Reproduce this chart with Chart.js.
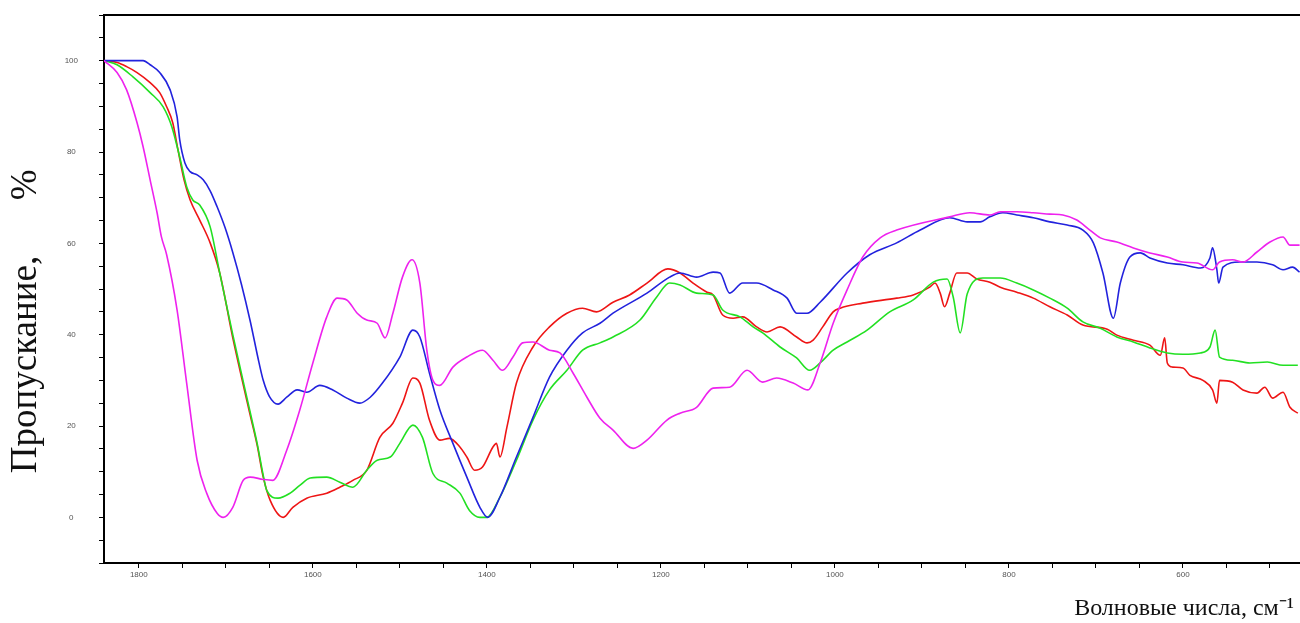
<!DOCTYPE html>
<html>
<head>
<meta charset="utf-8">
<script src="https://cdn.jsdelivr.net/npm/chart.js@4.4.1/dist/chart.umd.min.js"></script>
<style>
  html, body { margin: 0; padding: 0; background: #ffffff; }
  #wrap { width: 1300px; height: 623px; }
</style>
</head>
<body>
<div id="wrap"><canvas id="c" width="1300" height="623"></canvas></div>
<script>
// ---- data (wavenumber, cm-1  /  transmittance, %) ----
const blueWavenumber = [1840,1795,1787,1776,1764,1756,1753,1747,1741,1733,1726,1718,1710,1701,1692,1682,1672,1662,1657,1650,1640,1630,1618,1607,1592,1577,1561,1546,1534,1520,1500,1485,1477,1466,1454,1439,1423,1408,1399,1385,1366,1347,1328,1308,1290,1270,1255,1216,1190,1178,1159,1140,1132,1121,1106,1090,1071,1055,1044,1032,1017,986,960,929,902,868,848,833,822,807,791,772,753,733,715,703,692,680,672,661,649,638,618,600,580,569,566,561,559,554,535,515,497,485,474,466];
const blueTransmittance = [100,100,99.1,97.4,93.6,87.7,82.7,77.6,75.7,75.0,73.9,71.5,68,63.5,58,51,43,34,30,26.5,24.8,26.3,27.9,27.4,28.9,27.9,26.1,25.0,26.3,29.4,35.1,41.0,39.5,31.6,23.5,16.2,8.8,2.2,0,4.4,13.2,21.9,30.7,36.6,40.4,42.5,44.7,49.1,52.6,53.5,52.6,53.7,53.5,49.1,51.3,51.3,49.8,48.0,44.7,44.7,47.1,53.5,57.5,60.1,62.9,65.6,64.7,64.7,65.8,66.7,66.2,65.6,64.7,64.0,62.9,60.1,53.5,43.6,51.3,57.0,57.9,56.8,55.7,55.3,54.6,56.8,59.0,54.2,51.3,54.8,55.9,55.9,55.3,54.2,54.8,53.7];

const redWavenumber = [1840,1825,1814,1802,1787,1776,1768,1761,1755,1748,1741,1730,1718,1707,1692,1672,1664,1657,1649,1634,1623,1607,1584,1569,1554,1538,1523,1508,1497,1485,1477,1466,1454,1443,1431,1423,1414,1405,1393,1389,1385,1377,1366,1347,1328,1308,1290,1274,1255,1236,1216,1192,1178,1163,1147,1140,1129,1117,1106,1090,1078,1063,1044,1032,1025,1014,1002,994,968,929,910,891,885,879,874,868,860,848,837,822,810,791,772,753,733,715,687,676,657,638,626,621,618,612,600,592,577,566,561,558,543,531,515,506,497,485,477,468];
const redTransmittance = [100,99.6,98.7,97.4,95.2,93.0,89.9,86.4,80.5,73.9,69.5,65.1,60.1,53.5,39.3,22.4,15.8,8.8,3.7,0,2.2,4.2,5.3,6.6,8.1,10.3,17.5,20.6,25.0,30.5,29.4,21.3,16.9,17.3,15.4,13.2,10.3,11.0,15.4,16.2,13.2,19.7,29.4,37.3,41.7,44.7,45.8,45.0,47.1,48.7,51.3,54.4,53.5,51.3,49.3,48.7,44.3,43.6,43.9,41.7,40.6,41.7,39.5,38.2,38.8,41.7,45.0,45.8,46.9,48.0,48.7,50.4,51.3,49.1,46.1,49.1,53.5,53.5,52.2,51.5,50.4,49.3,48.0,46.1,44.3,42.1,41.2,39.9,38.8,37.7,35.5,39.3,33.8,32.9,32.7,31.1,30.0,27.9,25.0,30.0,29.6,27.9,27.2,28.5,26.1,27.4,24.1,22.8];

const greenWavenumber = [1840,1825,1807,1787,1772,1762,1753,1745,1738,1730,1718,1707,1692,1672,1664,1657,1653,1640,1626,1615,1603,1584,1569,1554,1538,1526,1511,1500,1485,1474,1462,1446,1431,1420,1408,1400,1385,1366,1347,1328,1308,1290,1270,1255,1224,1205,1190,1178,1159,1140,1129,1109,1094,1083,1063,1044,1029,1017,1002,986,963,937,910,887,871,864,856,848,830,810,791,772,753,733,715,695,676,657,638,618,600,580,569,563,558,543,523,503,485,468];
const greenTransmittance = [100,99.1,96.5,93.0,89.9,85.5,78.9,72.4,69.5,68.4,63.6,53.5,40,23,16.2,9.2,5.9,4.2,5.3,7.0,8.6,8.8,7.7,6.6,10.3,12.5,13.2,16.2,20.2,17.5,9.6,7.5,5.3,1.5,0,0,4.4,12.5,21.3,27.9,32.2,36.6,38.2,39.5,43.2,48.2,51.3,50.9,49.1,48.7,45.4,43.9,41.7,40.4,37.3,34.9,32.2,33.8,36.6,38.4,41.0,45.0,47.6,51.5,52.2,48.2,40.4,48.9,52.4,52.4,51.3,49.8,48.0,45.8,42.8,41.4,39.5,38.4,37.1,36.0,35.7,36.0,37.3,41.0,35.1,34.4,33.8,34.0,33.3,33.3];

const magentaWavenumber = [1840,1825,1814,1802,1795,1787,1779,1774,1768,1756,1745,1733,1722,1710,1703,1692,1680,1672,1657,1646,1630,1615,1600,1584,1572,1561,1549,1538,1526,1517,1508,1497,1486,1477,1469,1462,1454,1439,1423,1405,1393,1382,1370,1359,1347,1328,1316,1301,1285,1270,1255,1232,1216,1193,1178,1159,1140,1121,1101,1083,1067,1048,1031,1017,1002,986,968,948,929,868,845,822,810,791,772,753,738,722,707,695,676,657,638,618,600,584,566,558,543,531,515,500,485,477,466];
const magentaTransmittance = [100,97.4,93.6,86.4,81.1,73.9,66.7,61.4,57.5,45.4,29.4,12.5,5.3,0.9,0,2.2,8.1,8.8,8.3,8.1,14.7,23.5,33.8,43.9,48.0,47.6,44.7,43.2,42.5,39.3,44.7,52.6,56.4,51.3,36.6,30.0,28.9,32.9,35.1,36.6,34.4,32.2,35.1,38.2,38.4,36.6,36.0,31.6,26.3,21.7,19.1,15.1,16.9,21.3,22.8,24.1,28.3,28.5,32.2,29.6,30.5,29.4,27.9,33.8,42.5,49.8,57.0,61.2,62.9,65.8,66.7,66.2,66.9,66.9,66.7,66.4,66.2,65.1,62.9,61.2,60.3,59.0,57.9,57.0,55.9,55.7,54.2,55.9,56.4,55.9,58.1,60.3,61.4,59.6,59.6];

const xLabelValues = [1800,1600,1400,1200,1000,800,600];
const yLabelValues = [0,20,40,60,80,100];
const xTitle = 'Волновые числа, см\u207B\u00B9 ';
const yTitle = 'Пропускание,      %       ';

// ---- build ----
function pairs(xs, ys) {
  const n = Math.min(xs.length, ys.length);
  const out = [];
  for (let i = 0; i < n; i++) out.push({ x: xs[i], y: ys[i] });
  return out;
}
function series(label, xs, ys, color) {
  return {
    label, data: pairs(xs, ys), borderColor: color, backgroundColor: color,
    borderWidth: 1.6, pointRadius: 0, fill: false, cubicInterpolationMode: 'monotone'
  };
}

const X_MIN = 465.5, X_MAX = 1840;
const tickFont = { family: '"Liberation Sans", Arial, sans-serif', size: 8 };
const serifFont = '"Liberation Serif", "Times New Roman", serif';

new Chart(document.getElementById('c'), {
  type: 'line',
  data: {
    datasets: [
      series('magenta', magentaWavenumber, magentaTransmittance, '#ee22ee'),
      series('blue', blueWavenumber, blueTransmittance, '#2222dd'),
      series('green', greenWavenumber, greenTransmittance, '#22e022'),
      series('red', redWavenumber, redTransmittance, '#ee1515')
    ]
  },
  options: {
    responsive: false,
    animation: false,
    devicePixelRatio: 1,
    layout: { padding: { left: 0, right: 0, top: 0, bottom: 0 } },
    plugins: { legend: { display: false }, tooltip: { enabled: false } },
    scales: {
      x: {
        type: 'linear', position: 'bottom', reverse: true, weight: 0,
        min: X_MIN, max: X_MAX,
        afterFit: (s) => { s.height = 32; s.paddingLeft = 0; s.paddingRight = 0; },
        border: { display: true, color: '#000', width: 2 },
        grid: { display: true, drawOnChartArea: false, drawTicks: true, tickLength: 5, tickColor: '#000', tickWidth: 1 },
        ticks: {
          stepSize: 50, includeBounds: false, autoSkip: false, maxRotation: 0,
          padding: 2, color: '#555', font: tickFont,
          callback: (v) => xLabelValues.includes(v) ? String(v) : ''
        }
      },
      xTitleAxis: {
        type: 'linear', position: 'bottom', weight: 1,
        min: 0, max: 1,
        afterFit: (s) => { s.height = 28; s.paddingLeft = 0; s.paddingRight = 0; },
        border: { display: false },
        grid: { display: false },
        ticks: { display: false },
        title: {
          display: true, text: xTitle, align: 'end',
          color: '#111', font: { family: serifFont, size: 24 },
          padding: { top: 0, bottom: 0 }
        }
      },
      xTop: {
        type: 'linear', position: 'top', reverse: true,
        min: X_MIN, max: X_MAX,
        afterFit: (s) => { s.height = 15; s.paddingLeft = 0; s.paddingRight = 0; },
        border: { display: true, color: '#000', width: 2 },
        grid: { display: false },
        ticks: { display: false }
      },
      y: {
        type: 'linear', position: 'left',
        min: -10, max: 110,
        afterFit: (s) => { s.width = 104; s.paddingTop = 0; s.paddingBottom = 0; },
        border: { display: true, color: '#000', width: 2 },
        grid: { display: true, drawOnChartArea: false, drawTicks: true, tickLength: 5, tickColor: '#000', tickWidth: 1 },
        ticks: {
          stepSize: 5, includeBounds: false, autoSkip: false, crossAlign: 'center',
          padding: 21, color: '#555', font: tickFont,
          callback: (v) => yLabelValues.includes(v) ? String(v) : ''
        },
        title: {
          display: true, text: yTitle,
          color: '#111', font: { family: serifFont, size: 37 },
          padding: { top: 4, bottom: 0 }
        }
      }
    }
  }
});
</script>
</body>
</html>
